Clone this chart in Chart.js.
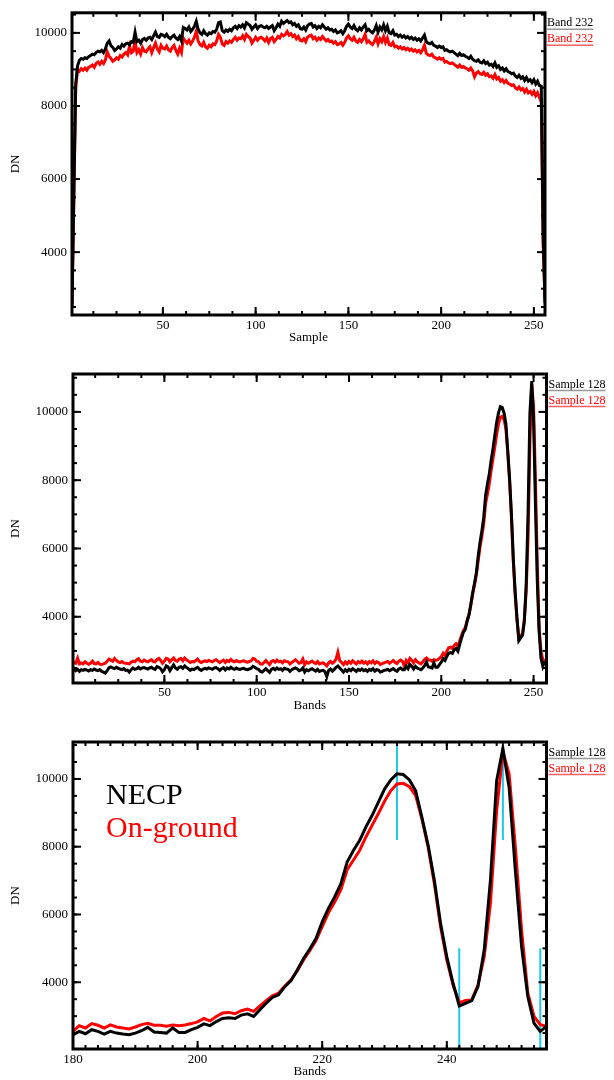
<!DOCTYPE html>
<html>
<head>
<meta charset="utf-8">
<script src="https://cdn.jsdelivr.net/npm/chart.js@4.4.0/dist/chart.umd.min.js"></script>
<style>
body{margin:0;background:#fff;width:614px;height:1080px;position:relative;overflow:hidden}
canvas{position:absolute;left:0}
</style>
</head>
<body>
<canvas id="c1" style="top:0px" width="614" height="350"></canvas>
<canvas id="c2" style="top:355px" width="614" height="360"></canvas>
<canvas id="c3" style="top:725px" width="614" height="355"></canvas>
<script>
// datos
const sampleTicks = [50, 100, 150, 200, 250]
const bandTicksZoom = [180, 200, 220, 240]
const dnTicks = [4000, 6000, 8000, 10000]

// panel 1: Band 232 a lo largo de las muestras 1..256
const band232Necp = [
 2500,5600,8600,9100,9250,9300,9280,9320,9300,9350,
 9380,9420,9400,9460,9500,9480,9520,9460,9560,9720,
 9780,9650,9600,9520,9560,9620,9580,9680,9640,9700,
 9720,9680,9760,9740,10020,9760,9800,9720,9820,9850,
 9800,9860,9880,9820,9920,10020,9900,9880,9960,9940,
 9900,9960,9880,9840,9900,9940,9860,9820,9900,9780,
 10150,10120,10080,10160,10040,10100,10180,10320,10100,10000,
 9960,10060,9980,9940,10000,9980,10040,10020,10100,10280,
 10300,10060,10020,10080,10040,10100,10060,10140,10180,10120,
 10200,10160,10220,10140,10280,10240,10200,10100,10160,10220,
 10120,10180,10200,10160,10140,10180,10120,10160,10200,10060,
 10140,10240,10180,10320,10260,10300,10340,10280,10300,10220,
 10260,10180,10220,10120,10100,10160,10080,10200,10240,10260,
 10160,10200,10120,10180,10140,10220,10160,10100,10140,10080,
 10100,10040,10080,10000,10020,10060,9980,10060,10180,10240,
 10160,10120,10200,10100,10060,10140,10080,10160,10220,10060,
 10100,10040,10000,10080,10200,10020,10160,10080,10220,10060,
 10180,10000,9980,10060,9940,9960,9900,9940,9880,9920,
 9860,9900,9840,9880,9820,9860,9800,9840,9780,9860,
 9940,9760,9720,9700,9740,9660,9640,9600,9640,9600,
 9620,9520,9540,9500,9480,9500,9460,9420,9380,9440,
 9380,9400,9360,9340,9300,9360,9280,9240,9220,9260,
 9200,9180,9240,9160,9200,9120,9140,9080,9180,9060,
 9100,9000,9040,8960,9020,8940,8920,8880,8900,8820,
 8780,8840,8760,8800,8700,8780,8680,8720,8640,8720,
 8600,8680,8560,8540,4500,2600]
const band232Ground = [
 2600,5500,8500,9000,8950,9020,8980,9040,8980,9060,
 9080,9120,9060,9160,9200,9140,9220,9160,9260,9480,
 9360,9300,9220,9260,9320,9280,9380,9340,9420,9460,
 9400,9640,9460,9500,9780,9460,9540,9420,9600,9500,
 9480,9560,9620,9460,9600,9720,9560,9480,9660,9580,
 9560,9640,9540,9500,9600,9660,9520,9420,9580,9460,
 9860,9780,9720,9800,9700,9780,9880,10040,9780,9680,
 9640,9740,9620,9580,9660,9620,9700,9680,9780,9960,
 9880,9700,9660,9760,9720,9780,9740,9820,9880,9800,
 9860,9840,9920,9820,9960,9900,9860,9720,9800,9880,
 9800,9860,9880,9840,9780,9860,9740,9840,9880,9760,
 9820,9900,9860,9960,9920,9960,10040,9940,9980,9900,
 9940,9840,9900,9800,9780,9840,9760,9880,9920,9940,
 9840,9880,9800,9860,9820,9900,9840,9780,9820,9760,
 9780,9720,9760,9680,9700,9740,9660,9740,9860,9920,
 9840,9800,9880,9780,9740,9820,9760,9840,9960,9740,
 9780,9720,9680,9760,9880,9700,9840,9760,9900,9740,
 9860,9680,9660,9740,9620,9640,9580,9620,9560,9600,
 9540,9580,9520,9560,9500,9540,9480,9520,9460,9540,
 9660,9440,9400,9380,9420,9340,9320,9280,9320,9280,
 9300,9200,9220,9180,9160,9180,9140,9100,9060,9120,
 9060,9080,9040,9020,8980,9040,8960,8800,8900,8940,
 8880,8860,8920,8840,8880,8800,8820,8760,8860,8740,
 8780,8680,8720,8640,8700,8620,8600,8560,8580,8500,
 8460,8520,8440,8480,8380,8460,8360,8400,8320,8400,
 8280,8360,8240,8100,4200,2700]

// panel 2 y 3: Sample 128 a lo largo de las bandas 1..256
const sample128Necp = [
 2480,2420,2460,2400,2450,2430,2460,2440,2410,2450,
 2430,2470,2440,2420,2450,2400,2380,2350,2420,2510,
 2530,2500,2480,2520,2490,2470,2450,2480,2430,2440,
 2380,2450,2500,2460,2480,2520,2470,2500,2510,2490,
 2470,2500,2520,2480,2460,2540,2520,2480,2390,2450,
 2560,2530,2420,2510,2590,2500,2460,2520,2540,2490,
 2560,2510,2480,2430,2470,2450,2490,2520,2460,2430,
 2470,2490,2470,2500,2480,2460,2500,2510,2480,2430,
 2480,2510,2440,2500,2470,2520,2480,2460,2500,2470,
 2460,2480,2490,2460,2450,2470,2490,2550,2520,2480,
 2460,2400,2380,2430,2480,2420,2370,2460,2490,2450,
 2500,2460,2480,2430,2490,2470,2460,2400,2450,2480,
 2500,2470,2420,2440,2500,2380,2450,2420,2450,2480,
 2440,2410,2460,2400,2420,2430,2390,2250,2430,2470,
 2410,2460,2520,2560,2500,2440,2380,2450,2400,2460,
 2420,2480,2440,2400,2460,2430,2470,2420,2450,2400,
 2460,2430,2480,2410,2450,2440,2380,2400,2430,2440,
 2460,2420,2450,2480,2430,2400,2470,2500,2450,
 2450,2550,2480,2600,2550,2470,2550,2500,2470,2450,
 2500,2570,2670,2530,2520,2500,2650,2520,2520,2600,
 2670,2770,2720,2840,2930,2950,2930,3030,3070,2990,
 3190,3380,3550,3630,3870,4050,4360,4700,4980,5290,
 5780,6180,6520,6910,7550,7890,8180,8580,8920,9310,
 9700,9970,10150,10130,9970,9650,8870,8040,7010,5730,
 4750,3970,3300,3380,3460,3870,4950,7010,9950,10900,
 9750,7300,5050,3580,2790,2550,2700]
const sample128Ground = [
 2680,2640,2790,2620,2650,2620,2680,2640,2610,2640,
 2700,2630,2620,2660,2610,2600,2620,2640,2700,2760,
 2730,2700,2780,2720,2680,2660,2690,2650,2640,2630,
 2620,2670,2700,2680,2740,2770,2700,2680,2730,2700,
 2680,2720,2740,2690,2680,2750,2780,2720,2640,2700,
 2780,2760,2680,2740,2790,2720,2700,2760,2780,2710,
 2790,2740,2700,2660,2690,2680,2720,2760,2690,2660,
 2690,2710,2690,2720,2700,2680,2720,2740,2700,2660,
 2700,2730,2660,2720,2690,2750,2700,2680,2720,2690,
 2680,2700,2710,2680,2670,2690,2710,2780,2760,2700,
 2680,2620,2610,2660,2720,2650,2600,2690,2720,2670,
 2730,2680,2700,2650,2710,2690,2680,2620,2660,2700,
 2740,2690,2640,2660,2760,2600,2680,2640,2670,2700,
 2660,2630,2690,2620,2640,2650,2610,2560,2650,2690,
 2640,2680,2760,2960,2720,2660,2600,2680,2620,2690,
 2640,2710,2660,2620,2690,2650,2700,2640,2680,2620,
 2690,2650,2710,2630,2680,2660,2600,2630,2650,2670,
 2690,2640,2680,2720,2660,2630,2700,2730,2690,
 2550,2720,2650,2780,2730,2650,2740,2680,2650,2620,
 2680,2750,2790,2730,2730,2700,2740,2720,2740,2780,
 2830,2930,2860,2990,3090,3110,3070,3160,3210,3140,
 3300,3460,3600,3680,3890,4070,4340,4660,4930,5230,
 5640,6050,6370,6730,7320,7600,7890,8280,8630,8970,
 9340,9650,9850,9870,9770,9510,8820,7990,6910,5640,
 4660,3920,3400,3460,3480,3920,4750,6320,9070,10800,
 10150,7990,5540,3680,2990,2750,2700]

// lineas cyan del panel 3
const cyanBands = [232, 242, 249, 255]
const cyanFrom = [8200, 5000, 8200, 5000]
const cyanTo = [11600, 1500, 11600, 1500]

const samples = band232Necp.map((v, i) => i + 1)
const bands = sample128Necp.map((v, i) => i + 1)

const serif = 'Liberation Serif, Times New Roman, serif'

function pts(xs, ys) {
    return xs.map((x, i) => ({x: x, y: ys[i]}))
}

function serie(xs, ys, color) {
    return {data: pts(xs, ys), borderColor: color, borderWidth: 3, pointRadius: 0, tension: 0}
}

// marco, ticks hacia dentro y leyenda a la derecha
const marco = {
    id: 'marco',
    afterDatasetsDraw(chart, args, o) {
        const ctx = chart.ctx, a = chart.chartArea
        const xs = chart.scales.x, ys = chart.scales.y
        ctx.save()
        ctx.strokeStyle = '#000'
        ctx.lineWidth = 2
        function seg(x1, y1, x2, y2) { ctx.beginPath(); ctx.moveTo(x1, y1); ctx.lineTo(x2, y2); ctx.stroke() }
        function tx(v, len) {
            const p = xs.getPixelForValue(v)
            seg(p, a.bottom, p, a.bottom - len); seg(p, a.top, p, a.top + len)
        }
        function ty(v, len) {
            const p = ys.getPixelForValue(v)
            seg(a.left, p, a.left + len, p); seg(a.right, p, a.right - len, p)
        }
        for (let v = Math.ceil(xs.min / o.minorX) * o.minorX; v <= xs.max; v += o.minorX) tx(v, 4)
        for (let v = Math.ceil(ys.min / o.minorY) * o.minorY; v <= ys.max; v += o.minorY) ty(v, 4)
        o.majorX.forEach(v => tx(v, 8))
        dnTicks.forEach(v => ty(v, 8))
        ctx.lineWidth = 3
        ctx.strokeRect(a.left, a.top, a.right - a.left, a.bottom - a.top)

        // leyenda
        ctx.font = '12px ' + serif
        ctx.textBaseline = 'middle'
        ctx.textAlign = 'left'
        o.labels.forEach((t, i) => {
            const y = a.top + 10.5 + i * 16
            const x = a.right + 2
            ctx.fillStyle = o.colors[i]
            ctx.fillText(t, x, y)
            const w = ctx.measureText(t).width
            ctx.strokeStyle = o.under[i]
            ctx.lineWidth = 1.5
            seg(x, y + 6, x + w, y + 6)
        })
        if (o.big) {
            ctx.font = '30px ' + serif
            ctx.textBaseline = 'alphabetic'
            ctx.fillStyle = '#000'
            ctx.fillText('NECP', a.left + 33, a.top + 62)
            ctx.fillStyle = '#ff0000'
            ctx.fillText('On-ground', a.left + 33, a.top + 95)
        }
        ctx.restore()
    }
}

function crearGrafico(id, datasets, cfg) {
    const ctx = document.getElementById(id).getContext('2d')
    return new Chart(ctx, {
        type: 'line',
        data: {datasets: datasets},
        options: {
            responsive: false,
            animation: false,
            events: [],
            layout: {padding: {top: cfg.padTop, right: cfg.padRight, left: 0, bottom: 0}},
            plugins: {
                legend: {display: false},
                tooltip: {enabled: false},
                marco: cfg.marco
            },
            scales: {
                x: {
                    type: 'linear',
                    min: cfg.xMin, max: cfg.xMax,
                    grid: {display: false, drawTicks: false},
                    border: {display: false},
                    afterBuildTicks: s => { s.ticks = cfg.marco.majorX.map(v => ({value: v})) },
                    afterFit: s => { s.height = cfg.xH },
                    ticks: {autoSkip: false, maxRotation: 0, padding: cfg.xPad, color: '#000',
                        callback: v => String(v),
                        font: {family: serif, size: 13}},
                    title: {display: true, text: cfg.xTitle, color: '#000',
                        font: {family: serif, size: 13}, padding: {top: 0, bottom: cfg.titlePad}}
                },
                y: {
                    min: cfg.yMin, max: cfg.yMax,
                    grid: {display: false, drawTicks: false},
                    border: {display: false},
                    afterBuildTicks: s => { s.ticks = dnTicks.map(v => ({value: v})) },
                    afterFit: s => { s.width = cfg.yW },
                    ticks: {autoSkip: false, padding: 5, color: '#000',
                        callback: v => String(v),
                        font: {family: serif, size: 13}},
                    title: {display: true, text: 'DN', color: '#000',
                        font: {family: serif, size: 13}, padding: {top: 8, bottom: 0}}
                }
            }
        },
        plugins: [marco]
    })
}

crearGrafico('c1', [
    serie(samples, band232Necp, '#000000'),
    serie(samples, band232Ground, '#ff0000')
], {
    padTop: 6, padRight: 69, yW: 72, xH: 35, xPad: 3, titlePad: 5,
    xMin: 1, xMax: 256, yMin: 2280, yMax: 10550, xTitle: 'Sample',
    marco: {majorX: sampleTicks, minorX: 12.5, minorY: 500,
        labels: ['Band 232', 'Band 232'], colors: ['#000', '#ff0000'], under: ['#999', '#ff6060']}
})

crearGrafico('c2', [
    serie(bands, sample128Necp, '#000000'),
    serie(bands, sample128Ground, '#ff0000')
], {
    padTop: 19, padRight: 67.5, yW: 73, xH: 32, xPad: 2, titlePad: 2,
    xMin: 0.5, xMax: 257, yMin: 2060, yMax: 11110, xTitle: 'Bands',
    marco: {majorX: sampleTicks, minorX: 12.5, minorY: 500,
        labels: ['Sample 128', 'Sample 128'], colors: ['#000', '#ff0000'], under: ['#999', '#ff6060']}
})

const cyan = cyanBands.map((b, i) => ({
    data: [{x: b, y: cyanFrom[i]}, {x: b, y: cyanTo[i]}],
    borderColor: '#1ec8e4', borderWidth: 2, pointRadius: 0
}))

crearGrafico('c3', [
    serie(bands, sample128Necp, '#000000'),
    serie(bands, sample128Ground, '#ff0000')
].concat(cyan), {
    padTop: 17, padRight: 67.5, yW: 73, xH: 31, xPad: 3, titlePad: 1,
    xMin: 180, xMax: 256, yMin: 2030, yMax: 11090, xTitle: 'Bands',
    marco: {majorX: bandTicksZoom, minorX: 2, minorY: 500, big: true,
        labels: ['Sample 128', 'Sample 128'], colors: ['#000', '#ff0000'], under: ['#999', '#ff6060']}
})
</script>
</body>
</html>
